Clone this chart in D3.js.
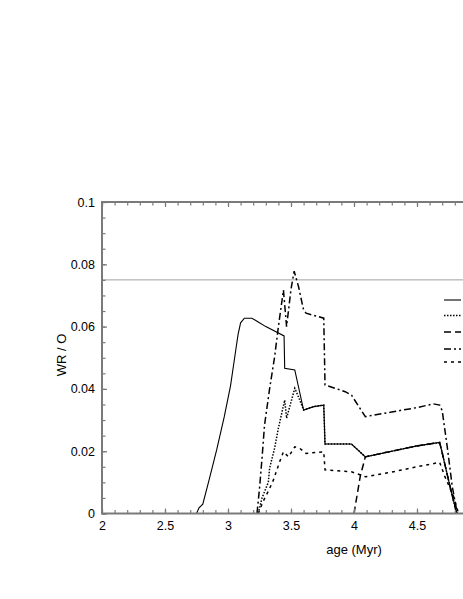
<!DOCTYPE html>
<html>
<head>
<meta charset="utf-8">
<script src="https://cdn.jsdelivr.net/npm/d3@7"></script>
<style>
  html, body { margin: 0; padding: 0; background: #fff; }
  svg { display: block; font-family: "Liberation Sans", Arial, Helvetica, sans-serif; }
</style>
</head>
<body>
<svg id="chart" width="463" height="599"></svg>
<script>
// ---- data ----
const solidAge = [2.75, 2.77, 2.80, 2.85, 2.91, 2.97, 3.02, 3.06, 3.08, 3.10, 3.13, 3.19, 3.24, 3.30, 3.445, 3.45, 3.53, 3.60, 3.68, 3.76, 3.77, 3.98, 4.09, 4.30, 4.50, 4.68, 4.70, 4.76, 4.815];
const solidWR  = [0, 0.0018, 0.003, 0.0108, 0.0204, 0.031, 0.041, 0.052, 0.0575, 0.0612, 0.0627, 0.0627, 0.0615, 0.0600, 0.057, 0.0466, 0.0461, 0.0332, 0.0343, 0.0348, 0.0223, 0.0223, 0.0182, 0.0200, 0.0217, 0.0228, 0.0195, 0.009, 0];

const dottedAge = [3.24, 3.27, 3.30, 3.32, 3.33, 3.37, 3.40, 3.45, 3.465, 3.53, 3.57, 3.60, 3.68, 3.76, 3.77, 3.98, 4.09, 4.30, 4.50, 4.68, 4.70, 4.76, 4.815];
const dottedWR  = [0, 0.005, 0.008, 0.010, 0.0145, 0.021, 0.0274, 0.0364, 0.0306, 0.0402, 0.0364, 0.0332, 0.0343, 0.0348, 0.0223, 0.0223, 0.0182, 0.0200, 0.0217, 0.0228, 0.0195, 0.009, 0];

const longDashAge = [4.0, 4.05, 4.09, 4.30, 4.50, 4.68, 4.70, 4.76, 4.815];
const longDashWR  = [0, 0.012, 0.0182, 0.0200, 0.0217, 0.0228, 0.0195, 0.009, 0];

const dashDotAge = [3.23, 3.25, 3.27, 3.29, 3.33, 3.37, 3.40, 3.44, 3.465, 3.50, 3.525, 3.56, 3.60, 3.62, 3.76, 3.77, 3.93, 3.98, 4.09, 4.30, 4.50, 4.63, 4.68, 4.70, 4.74, 4.78, 4.82];
const dashDotWR  = [0, 0.008, 0.0177, 0.0284, 0.040, 0.0503, 0.060, 0.0717, 0.060, 0.072, 0.0778, 0.0728, 0.0653, 0.0643, 0.0627, 0.0413, 0.0391, 0.0380, 0.0311, 0.0326, 0.0340, 0.0352, 0.0348, 0.033, 0.0214, 0.0086, 0];

const dashedAge = [3.24, 3.28, 3.33, 3.36, 3.41, 3.44, 3.48, 3.53, 3.57, 3.62, 3.76, 3.77, 3.98, 4.09, 4.30, 4.50, 4.68, 4.72, 4.79, 4.83];
const dashedWR  = [0, 0.004, 0.008, 0.0107, 0.0166, 0.0198, 0.0182, 0.0214, 0.0209, 0.0193, 0.0198, 0.014, 0.0134, 0.0118, 0.0133, 0.0150, 0.0164, 0.012, 0.0055, 0];

const refLevel = 0.075;

const xTicks = [2, 2.5, 3, 3.5, 4, 4.5, 5];
const xTickLabels = ["2", "2.5", "3", "3.5", "4", "4.5", ""];
const yTicks = [0, 0.02, 0.04, 0.06, 0.08, 0.1];
const yTickLabels = ["0", "0.02", "0.04", "0.06", "0.08", "0.1"];

const xLabel = "age (Myr)";
const yLabel = "WR / O";

(function () {
  // ---- layout ----
  const svg = d3.select("#chart");
  const mLeft = 102, mTop = 202, mRight = 480, mBottom = 513.5;

  const x = d3.scaleLinear().domain([2, 5]).range([mLeft, mRight]);
  const y = d3.scaleLinear().domain([0, 0.1]).range([mBottom, mTop]);

  const axisColor = "#7a7a7a";

  // reference line
  svg.append("line")
    .attr("x1", x(2)).attr("x2", x(5))
    .attr("y1", y(refLevel)).attr("y2", y(refLevel))
    .attr("stroke", "#a0a0a0").attr("stroke-width", 1);

  // series
  const series = [
    { age: solidAge, wr: solidWR, dash: null, w: 1.1 },
    { age: dottedAge, wr: dottedWR, dash: "1.5,1.5", w: 1.5 },
    { age: longDashAge, wr: longDashWR, dash: "7,4", w: 1.5 },
    { age: dashDotAge, wr: dashDotWR, dash: "7,3,2,3", w: 1.5 },
    { age: dashedAge, wr: dashedWR, dash: "3,4", w: 1.5 }
  ];

  const line = d3.line().x(d => x(d[0])).y(d => y(d[1]));

  svg.append("clipPath").attr("id", "clip")
    .append("rect").attr("x", mLeft).attr("y", mTop - 10)
    .attr("width", mRight - mLeft).attr("height", mBottom - mTop + 10);

  const g = svg.append("g").attr("clip-path", "url(#clip)");
  series.forEach(s => {
    const pts = s.age.map((a, i) => [a, s.wr[i]]);
    g.append("path")
      .attr("d", line(pts))
      .attr("fill", "none")
      .attr("stroke", "#000")
      .attr("stroke-width", s.w)
      .attr("stroke-dasharray", s.dash);
  });

  // axes
  const minorX = d3.range(20, 51).map(v => v / 10);
  const minorY = d3.range(0, 21).map(v => v * 0.005);

  function styleAxis(sel) {
    sel.select(".domain").remove();
    sel.selectAll(".tick line").attr("stroke", axisColor).attr("stroke-width", 1.2);
    sel.selectAll("text").attr("fill", "#000").style("font-size", "12.5px")
      .style("font-family", "'Liberation Sans', Arial, sans-serif");
  }

  // bottom
  svg.append("g").attr("transform", `translate(0,${mBottom})`)
    .call(d3.axisBottom(x).tickValues(minorX).tickSize(-3.5).tickFormat(""))
    .call(styleAxis);
  svg.append("g").attr("transform", `translate(0,${mBottom})`)
    .call(d3.axisBottom(x).tickValues(xTicks).tickSize(-5).tickPadding(8)
          .tickFormat((d, i) => xTickLabels[i]))
    .call(styleAxis);
  // top
  svg.append("g").attr("transform", `translate(0,${mTop})`)
    .call(d3.axisTop(x).tickValues(minorX).tickSize(-3.5).tickFormat(""))
    .call(styleAxis);
  svg.append("g").attr("transform", `translate(0,${mTop})`)
    .call(d3.axisTop(x).tickValues(xTicks).tickSize(-5).tickFormat(""))
    .call(styleAxis);
  // left
  svg.append("g").attr("transform", `translate(${mLeft},0)`)
    .call(d3.axisLeft(y).tickValues(minorY).tickSize(-3.5).tickFormat(""))
    .call(styleAxis);
  svg.append("g").attr("transform", `translate(${mLeft},0)`)
    .call(d3.axisLeft(y).tickValues(yTicks).tickSize(-5).tickPadding(7)
          .tickFormat((d, i) => yTickLabels[i]))
    .call(styleAxis);

  // frame
  svg.append("rect")
    .attr("x", mLeft).attr("y", mTop)
    .attr("width", mRight - mLeft).attr("height", mBottom - mTop)
    .attr("fill", "none").attr("stroke", axisColor).attr("stroke-width", 2);

  // axis titles
  svg.append("text")
    .attr("x", 354).attr("y", 554)
    .attr("text-anchor", "middle")
    .style("font-size", "13px")
    .text(xLabel);
  svg.append("text")
    .attr("transform", "translate(66,355) rotate(-90)")
    .attr("text-anchor", "middle")
    .style("font-size", "13px")
    .text(yLabel);

  // legend (line samples only; labels fall outside the visible area)
  const legendY = [300, 315.5, 332, 349, 362];
  series.forEach((s, i) => {
    svg.append("line")
      .attr("x1", 444).attr("x2", 461)
      .attr("y1", legendY[i]).attr("y2", legendY[i])
      .attr("stroke", "#000").attr("stroke-width", s.w)
      .attr("stroke-dasharray", s.dash);
  });
})();
</script>
</body>
</html>
